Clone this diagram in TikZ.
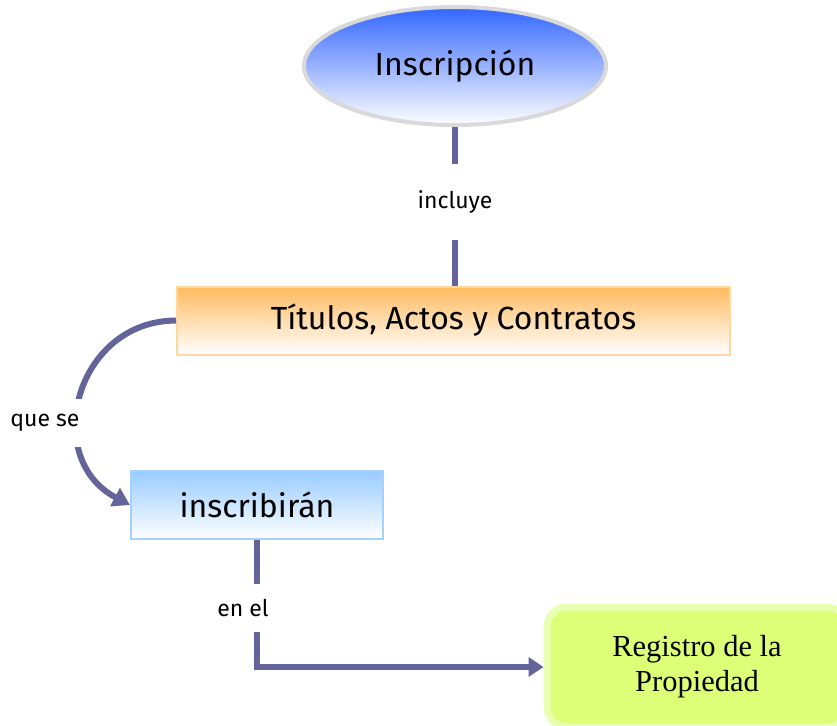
\documentclass[tikz,border=0pt]{standalone}
\usepackage{fontspec}
\setmainfont{Fira Sans}
\newfontfamily\regfont{Liberation Serif}
\usetikzlibrary{shapes.geometric,arrows.meta}
\definecolor{linkc}{HTML}{64649A}
\definecolor{ellbord}{HTML}{D9D9D9}
\definecolor{elltop}{HTML}{3366FF}
\definecolor{orgtop}{HTML}{FFBB5E}
\definecolor{orgbord}{HTML}{FFD7A0}
\definecolor{blutop}{HTML}{99CCFF}
\definecolor{blubord}{HTML}{A6D0FF}
\definecolor{grnfill}{HTML}{DDFF77}
\definecolor{grnbord}{HTML}{E9FFB2}
\tikzset{
  link/.style={draw=linkc,line width=6pt},
  lbl/.style={inner sep=0pt,font=\fontsize{23}{26}\selectfont},
  boxtext/.style={font=\fontsize{32}{36}\selectfont},
}
\begin{document}
\begin{tikzpicture}[x=1pt,y=-1pt]
\useasboundingbox (0,0) rectangle (837,725);
\clip (0,0) rectangle (837,725);
% nodes
\node[ellipse,draw=ellbord,line width=4pt,top color=elltop,bottom color=white,
      minimum width=302,minimum height=118,boxtext] (ell) at (455,66) {Inscripción};
\node[lbl,minimum height=76] (incl) at (455,202) {incluye};
\node[draw=orgbord,line width=2pt,top color=orgtop,bottom color=white,
      minimum width=553,minimum height=68,boxtext] (tit) at (453.5,320.5) {Títulos, Actos y Contratos};
\node[lbl,fill=white,minimum height=48,minimum width=96] (que) at (45,423) {que se};
\node[draw=blubord,line width=2pt,top color=blutop,bottom color=white,
      minimum width=252,minimum height=68,boxtext] (ins) at (257,505) {inscribirán};
\node[lbl,minimum height=47] (en) at (243,608) {en el};
\node[draw=grnbord,line width=7pt,fill=grnfill,rounded corners=20pt,
      minimum width=300,minimum height=120,align=center,
      font=\regfont\fontsize{30.5}{35}\selectfont] (reg) at (697,667) {Registro de la\\Propiedad};
% connectors
\draw[link] (ell.south) -- (incl.north);
\draw[link] (incl.south) -- (incl.south |- tit.north);
\draw[link,-{Triangle[length=17pt,width=20pt]}] (tit.west) .. controls (75,321) and (41,458) .. (ins.west);
\node[lbl,fill=white,minimum height=48,minimum width=96] at (que) {que se};
\draw[link] (ins.south) -- (ins.south |- en.north);
\draw[link,-{Triangle[length=15pt,width=19pt]}] (ins.south |- en.south) |- (reg.west);
\end{tikzpicture}
\end{document}
